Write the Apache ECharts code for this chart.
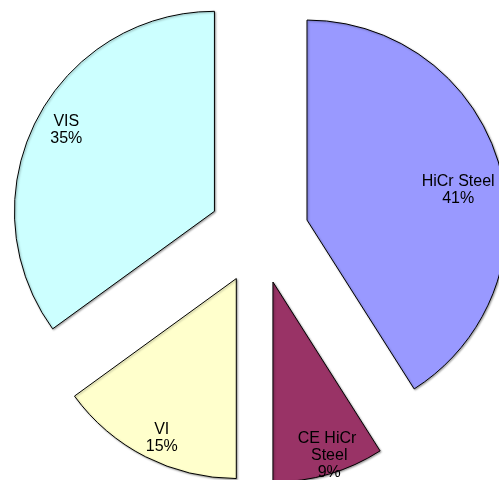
<!DOCTYPE html>
<html>
<head>
<meta charset="utf-8">
<script src="https://cdn.jsdelivr.net/npm/echarts@6/dist/echarts.min.js"></script>
<style>
html, body { margin: 0; padding: 0; background: #fff; }
#main { width: 499px; height: 480px; }
</style>
</head>
<body>
<div id="main"></div>
<script>
var names = ['HiCr Steel', 'CE HiCr Steel', 'VI', 'VIS'];
var values = [41, 9, 15, 35];
var colors = ['#9999ff', '#993366', '#ffffcc', '#ccffff'];

var sliceData = names.map(function (n, i) {
    return { name: n, value: values[i], selected: true, itemStyle: { color: colors[i] } };
});
var labelData = names.map(function (n, i) {
    return { name: n, value: values[i], selected: true };
});

var myChart = echarts.init(document.getElementById('main'), null, { renderer: 'canvas' });
var option = {
    animation: false,
    backgroundColor: '#fff',
    series: [
        {
            // slices
            type: 'pie',
            center: [259, 234],
            radius: [0, 200],
            startAngle: 90,
            clockwise: true,
            selectedMode: 'multiple',
            selectedOffset: 50,
            silent: true,
            label: { show: false },
            labelLine: { show: false },
            itemStyle: {
                borderColor: '#000',
                borderWidth: 1,
                shadowColor: 'rgba(0,0,0,0.35)',
                shadowBlur: 2,
                shadowOffsetX: 1,
                shadowOffsetY: 1
            },
            data: sliceData
        },
        {
            // labels only, placed further out than the default inside position
            type: 'pie',
            center: [259, 234],
            radius: [140, 200],
            startAngle: 90,
            clockwise: true,
            selectedMode: 'multiple',
            selectedOffset: 50,
            silent: true,
            itemStyle: { color: 'rgba(0,0,0,0)', borderWidth: 0 },
            labelLine: { show: false },
            label: {
                show: true,
                position: 'inside',
                formatter: '{b}\n{d}%',
                fontFamily: 'Liberation Sans, Arial, sans-serif',
                fontSize: 16,
                lineHeight: 17,
                color: '#000',
                width: 80,
                overflow: 'break',
                align: 'center'
            },
            labelLayout: function (params) {
                // small nudges so labels sit where Excel put them
                var nudge = [[-15, 18], [8, 7], [4, 5], [6, -3]][params.dataIndex];
                return { dx: nudge[0], dy: nudge[1] };
            },
            data: labelData
        }
    ]
};
myChart.setOption(option);
</script>
</body>
</html>
